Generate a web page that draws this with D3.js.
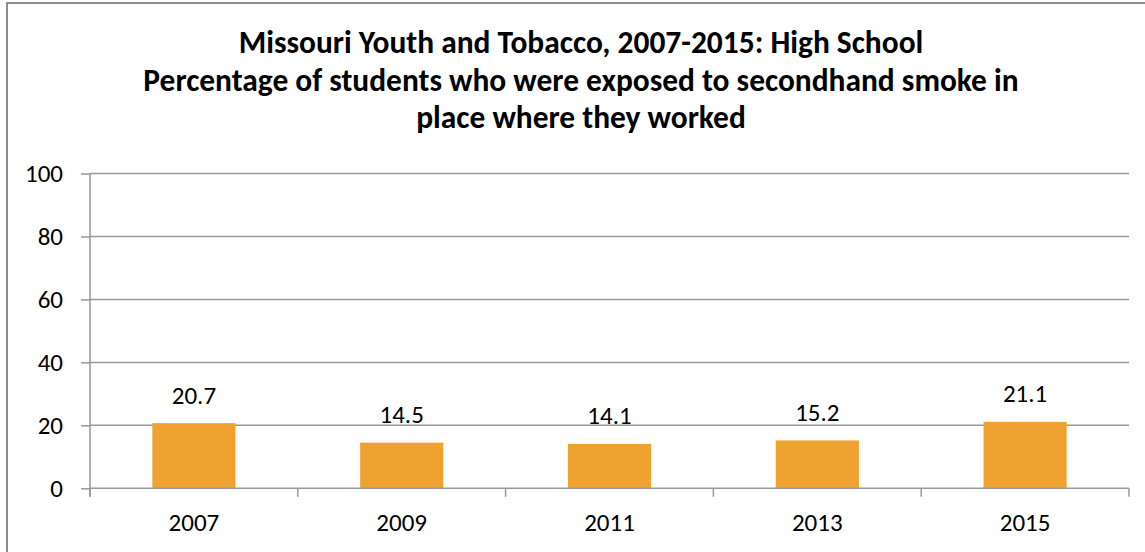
<!DOCTYPE html>
<html>
<head>
<meta charset="utf-8">
<script src="https://cdn.jsdelivr.net/npm/d3@7"></script>
<style>
  html, body { margin: 0; padding: 0; background: #fff; }
  svg { display: block; }
  text { font-family: Carlito, "Open Sans", "Noto Sans", sans-serif; fill: #000; }
</style>
</head>
<body>
<svg id="chart" width="1145" height="552"></svg>
<script>
const titleLines = [
  "Missouri Youth and Tobacco, 2007-2015: High School",
  "Percentage of students who were exposed to secondhand smoke in",
  "place where they worked"
];
const categories = ["2007", "2009", "2011", "2013", "2015"];
const values = [20.7, 14.5, 14.1, 15.2, 21.1];
const yTicks = [0, 20, 40, 60, 80, 100];

(function () {
const svg = d3.select("#chart");
const W = 1145, H = 552;
const labelSize = 25;

// outer chart frame
svg.append("rect")
  .attr("x", 7).attr("y", 3)
  .attr("width", W + 10).attr("height", H + 10)
  .attr("fill", "none").attr("stroke", "#8c8c8c").attr("stroke-width", 2);

// plot area
const pLeft = 90, pRight = 1129, pTop = 173.5, pBottom = 488.3;

const x = d3.scaleBand().domain(categories).range([pLeft, pRight])
  .paddingInner(0.6).paddingOuter(0.3);
const y = d3.scaleLinear().domain([0, 100]).range([pBottom, pTop]);

// title
const titleTargetW = 685;
const baselines = [53, 90.5, 128];
const cx = 581;
const tg = svg.append("g");
titleLines.forEach((t, i) => {
  tg.append("text")
    .attr("x", cx).attr("y", baselines[i])
    .attr("text-anchor", "middle")
    .attr("font-weight", "bold")
    .attr("font-size", 26)
    .text(t);
});
{
  const w1 = tg.select("text").node().getComputedTextLength();
  const fs = 26 * titleTargetW / w1;
  tg.selectAll("text").attr("font-size", fs);
}

// gridlines
svg.append("g").selectAll("line").data(yTicks.filter(d => d > 0)).join("line")
  .attr("x1", pLeft).attr("x2", pRight)
  .attr("y1", d => y(d)).attr("y2", d => y(d))
  .attr("stroke", "#999").attr("stroke-width", 1.5);

// bars
svg.append("g").selectAll("rect").data(values).join("rect")
  .attr("x", (d, i) => x(categories[i]))
  .attr("width", x.bandwidth())
  .attr("y", d => y(d))
  .attr("height", d => y(0) - y(d))
  .attr("fill", "#EFA22F");

// y axis
const yAxis = d3.axisLeft(y).tickValues(yTicks).tickSize(9).tickPadding(18);
const gy = svg.append("g").attr("transform", `translate(${pLeft},0)`).call(yAxis);
gy.select(".domain").attr("stroke", "#999").attr("stroke-width", 1.5)
  .attr("d", `M0,${pBottom + 8.5}V${pTop}`);
gy.selectAll(".tick line").attr("stroke", "#999").attr("stroke-width", 1.5);
gy.selectAll(".tick text").attr("font-size", labelSize)
  .attr("font-family", 'Carlito, "Open Sans", sans-serif').attr("fill", "#000");

// x axis
const step = x.step();
const bounds = categories.map(c => x(c) - step * 0.3).concat([pRight]);
const gx = svg.append("g");
gx.append("line").attr("x1", pLeft).attr("x2", pRight)
  .attr("y1", pBottom).attr("y2", pBottom)
  .attr("stroke", "#999").attr("stroke-width", 1.5);
gx.selectAll("line.tk").data(bounds).join("line").attr("class", "tk")
  .attr("x1", d => d).attr("x2", d => d)
  .attr("y1", pBottom).attr("y2", pBottom + 8.5)
  .attr("stroke", "#999").attr("stroke-width", 1.5);
gx.selectAll("text").data(categories).join("text")
  .attr("x", d => x(d) + x.bandwidth() / 2)
  .attr("y", 531)
  .attr("text-anchor", "middle")
  .attr("font-size", labelSize)
  .text(d => d);

// value labels
svg.append("g").selectAll("text").data(values).join("text")
  .attr("x", (d, i) => x(categories[i]) + x.bandwidth() / 2)
  .attr("y", d => y(d) - 19.5)
  .attr("text-anchor", "middle")
  .attr("font-size", labelSize)
  .text(d => d.toFixed(1));
})();
</script>
</body>
</html>
